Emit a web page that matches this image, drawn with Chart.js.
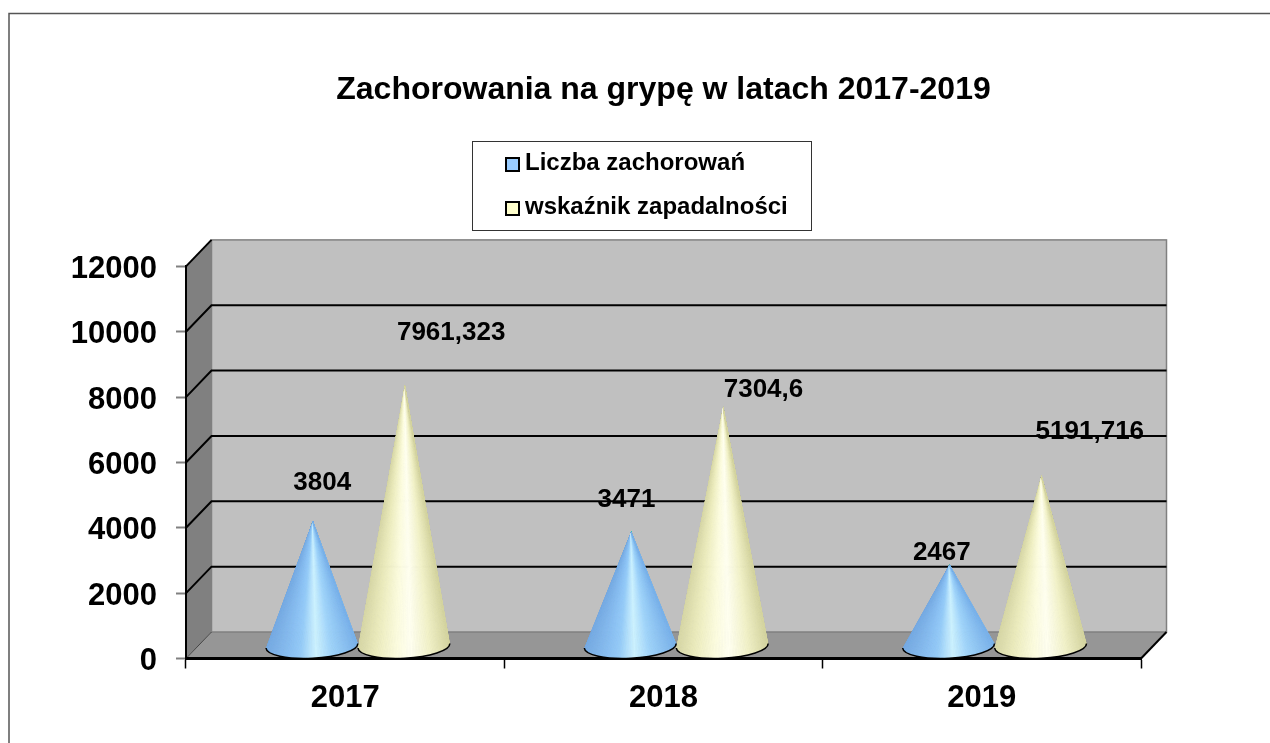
<!DOCTYPE html>
<html>
<head>
<meta charset="utf-8">
<style>html,body{margin:0;padding:0;background:#fff;overflow:hidden}canvas{display:block}</style>
<script src="https://cdn.jsdelivr.net/npm/chart.js@4/dist/chart.umd.js"></script>
</head>
<body>
<canvas id="c" width="1270" height="743"></canvas>
<script>
const categories = ['2017', '2018', '2019'];
const liczbaZachorowan = [3804, 3471, 2467];
const wskaznikZapadalnosci = [7961.323, 7304.6, 5191.716];
const seriesNames = ['Liczba zachorowań', 'wskaźnik zapadalności'];
const chartTitle = 'Zachorowania na grypę w latach 2017-2019';
const yTickStep = 2000;
const yMax = 12000;

// Style / layout, separate from data
const FONT = '"Liberation Sans", Arial, sans-serif';
const DEPTH_X = 25.5, DEPTH_Y = -26.5;
const LABEL_SHIFT = [
  [[23, -51], [9, -45], [6, -25]],
  [[60, -66], [54, -30], [62, -57]]
];
const CONE_STOPS = [
  [[0, [118, 170, 226]], [0.28, [140, 194, 244]], [0.38, [150, 204, 248]], [0.55, [205, 242, 255]], [0.72, [160, 212, 250]], [1, [122, 178, 234]]],
  [[0, [214, 214, 166]], [0.2, [236, 236, 190]], [0.42, [252, 252, 222]], [0.58, [255, 255, 240]], [0.8, [240, 240, 198]], [1, [212, 212, 160]]]
];
function shade(stops, t) {
  for (let k = 1; k < stops.length; k++) {
    if (t <= stops[k][0]) {
      const a = stops[k - 1], b = stops[k], f = (t - a[0]) / (b[0] - a[0]);
      return 'rgb(' + a[1].map((v, n) => Math.round(v + (b[1][n] - v) * f)).join(',') + ')';
    }
  }
  return 'rgb(' + stops[stops.length - 1][1].join(',') + ')';
}

const scene = {
  id: 'scene',
  afterLayout(chart) {
    const lg = chart.legend;
    lg.left = 486; lg.right = 800; lg.top = 131; lg.bottom = 300;
  },
  beforeDraw(chart) {
    const ctx = chart.ctx, x = chart.scales.x, y = chart.scales.y;
    const L = x.left, R = x.right, B = y.getPixelForValue(0), T = y.getPixelForValue(yMax);
    ctx.save();
    ctx.fillStyle = '#fff';
    ctx.fillRect(0, 0, chart.width, chart.height);
    // outer frame
    ctx.strokeStyle = '#555'; ctx.lineWidth = 1.5;
    ctx.beginPath(); ctx.moveTo(9, 743); ctx.lineTo(9, 13.5); ctx.lineTo(1270, 13.5); ctx.stroke();
    // legend frame
    ctx.strokeStyle = '#333'; ctx.lineWidth = 1;
    ctx.strokeRect(472.5, 141.5, 339, 89);
    // back wall
    ctx.fillStyle = '#c0c0c0';
    ctx.fillRect(L + DEPTH_X, T + DEPTH_Y, R - L, B - T);
    // side wall
    ctx.fillStyle = '#808080';
    ctx.beginPath();
    ctx.moveTo(L, T); ctx.lineTo(L + DEPTH_X, T + DEPTH_Y); ctx.lineTo(L + DEPTH_X, B + DEPTH_Y); ctx.lineTo(L, B);
    ctx.closePath(); ctx.fill();
    // floor
    ctx.fillStyle = '#969696';
    ctx.beginPath();
    ctx.moveTo(L, B); ctx.lineTo(R, B); ctx.lineTo(R + DEPTH_X, B + DEPTH_Y); ctx.lineTo(L + DEPTH_X, B + DEPTH_Y);
    ctx.closePath(); ctx.fill();
    // wall outline
    ctx.strokeStyle = '#808080'; ctx.lineWidth = 1.5;
    ctx.strokeRect(L + DEPTH_X, T + DEPTH_Y, R - L, B - T);
    // grid lines running over side and back wall
    y.ticks.forEach(t => {
      const py = y.getPixelForValue(t.value);
      const top = t.value === yMax, zero = t.value === 0;
      ctx.strokeStyle = zero ? '#444' : '#000'; ctx.lineWidth = zero ? 1 : 2;
      ctx.beginPath();
      ctx.moveTo(L, py); ctx.lineTo(L + DEPTH_X, py + DEPTH_Y);
      if (!top && !zero) ctx.lineTo(R + DEPTH_X, py + DEPTH_Y);
      ctx.stroke();
    });
    // floor front-right edge
    ctx.strokeStyle = '#000'; ctx.lineWidth = 2;
    ctx.beginPath(); ctx.moveTo(R, B); ctx.lineTo(R + DEPTH_X, B + DEPTH_Y); ctx.stroke();
    ctx.restore();
  },
  beforeDatasetDraw(chart, args) {
    const ctx = chart.ctx, stops = CONE_STOPS[args.index];
    const dx = DEPTH_X / 2, dy = DEPTH_Y / 2;
    args.meta.data.forEach(bar => {
      const p = bar.getProps(['x', 'y', 'base', 'width'], true);
      const cx = p.x + dx, rx = p.width / 2, baseY = p.base + dy + 1, tipX = cx + 1, tipY = p.y + dy;
      const ry = 12.5, rot = -0.05, cr = Math.cos(rot), sr = Math.sin(rot);
      ctx.save();
      ctx.beginPath();
      ctx.moveTo(tipX, tipY);
      ctx.ellipse(cx, baseY, rx, ry, rot, Math.PI, 0, true);
      ctx.closePath();
      ctx.clip();
      const n = 90;
      const pt = a => {
        const ex = rx * Math.cos(a), ey = ry * Math.sin(a);
        return [cx + ex * cr - ey * sr, baseY + ex * sr + ey * cr];
      };
      for (let i = 0; i < n; i++) {
        const a0 = Math.PI - Math.PI * i / n, a1 = Math.PI - Math.PI * (i + 1) / n;
        const q0 = pt(a0), q1 = pt(a1);
        const c = shade(stops, ((q0[0] + q1[0]) / 2 - (cx - rx)) / (2 * rx));
        ctx.fillStyle = c; ctx.strokeStyle = c; ctx.lineWidth = 0.8;
        ctx.beginPath();
        ctx.moveTo(tipX, tipY); ctx.lineTo(q0[0], q0[1]); ctx.lineTo(q1[0], q1[1]);
        ctx.closePath(); ctx.fill(); ctx.stroke();
      }
      ctx.restore();
      ctx.save();
      ctx.beginPath();
      ctx.ellipse(cx, baseY, rx, ry, rot, Math.PI, 0, true);
      ctx.strokeStyle = '#000'; ctx.lineWidth = 1.5;
      ctx.stroke();
      ctx.restore();
    });
    return false;
  },
  afterDatasetsDraw(chart) {
    const ctx = chart.ctx;
    ctx.save();
    ctx.font = 'bold 26px ' + FONT;
    ctx.fillStyle = '#000';
    ctx.textAlign = 'center';
    ctx.textBaseline = 'middle';
    chart.data.datasets.forEach((ds, i) => {
      chart.getDatasetMeta(i).data.forEach((bar, j) => {
        const p = bar.getProps(['x', 'y'], true);
        const text = String(ds.data[j]).replace('.', ',');
        ctx.fillText(text, p.x + LABEL_SHIFT[i][j][0], p.y + LABEL_SHIFT[i][j][1]);
      });
    });
    // legend swatches at the reference's size
    ctx.lineWidth = 2; ctx.strokeStyle = '#000';
    chart.data.datasets.forEach((ds, i) => {
      const top = 158 + i * 44;
      ctx.fillStyle = ds.backgroundColor;
      ctx.fillRect(506, top, 13, 13);
      ctx.strokeRect(506, top, 13, 13);
    });
    ctx.restore();
  }
};

new Chart(document.getElementById('c'), {
  type: 'bar',
  plugins: [scene],
  data: {
    labels: categories,
    datasets: [
      { label: seriesNames[0], data: liczbaZachorowan, backgroundColor: '#99ccff', borderColor: '#000', borderWidth: 2 },
      { label: seriesNames[1], data: wskaznikZapadalnosci, backgroundColor: '#ffffcc', borderColor: '#000', borderWidth: 2 }
    ]
  },
  options: {
    responsive: false,
    animation: false,
    layout: { padding: { left: 0, right: 129, top: 0, bottom: 0 } },
    datasets: { bar: { categoryPercentage: 0.578, barPercentage: 1 } },
    plugins: {
      tooltip: { enabled: false },
      title: {
        display: true, text: chartTitle, fullSize: false, color: '#000',
        font: { family: FONT, size: 32, weight: 'bold', lineHeight: 1.2 },
        padding: { top: 71, bottom: 157 }
      },
      legend: {
        display: true, position: 'chartArea', align: 'start',
        labels: {
          boxWidth: 7, boxHeight: 9, padding: 20, color: '#000',
          font: { family: FONT, size: 24, weight: 'bold' }
        }
      }
    },
    scales: {
      x: {
        afterFit(s) { s.height = 84.5; },
        grid: { drawOnChartArea: false, drawTicks: true, tickLength: 10, tickColor: '#000', tickWidth: 1.5 },
        border: { color: '#000', width: 3 },
        ticks: { color: '#000', padding: 11, font: { family: FONT, size: 31, weight: 'bold' } }
      },
      y: {
        min: 0, max: yMax,
        afterFit(s) { s.width = 186; },
        grid: { drawOnChartArea: false, drawTicks: true, tickLength: 10, tickColor: '#808080', tickWidth: 2 },
        border: { color: '#000', width: 2 },
        ticks: {
          stepSize: yTickStep, color: '#000', padding: 19, labelOffset: 3,
          font: { family: FONT, size: 31, weight: 'bold' },
          callback: v => String(v)
        }
      }
    }
  }
});
</script>
</body>
</html>
